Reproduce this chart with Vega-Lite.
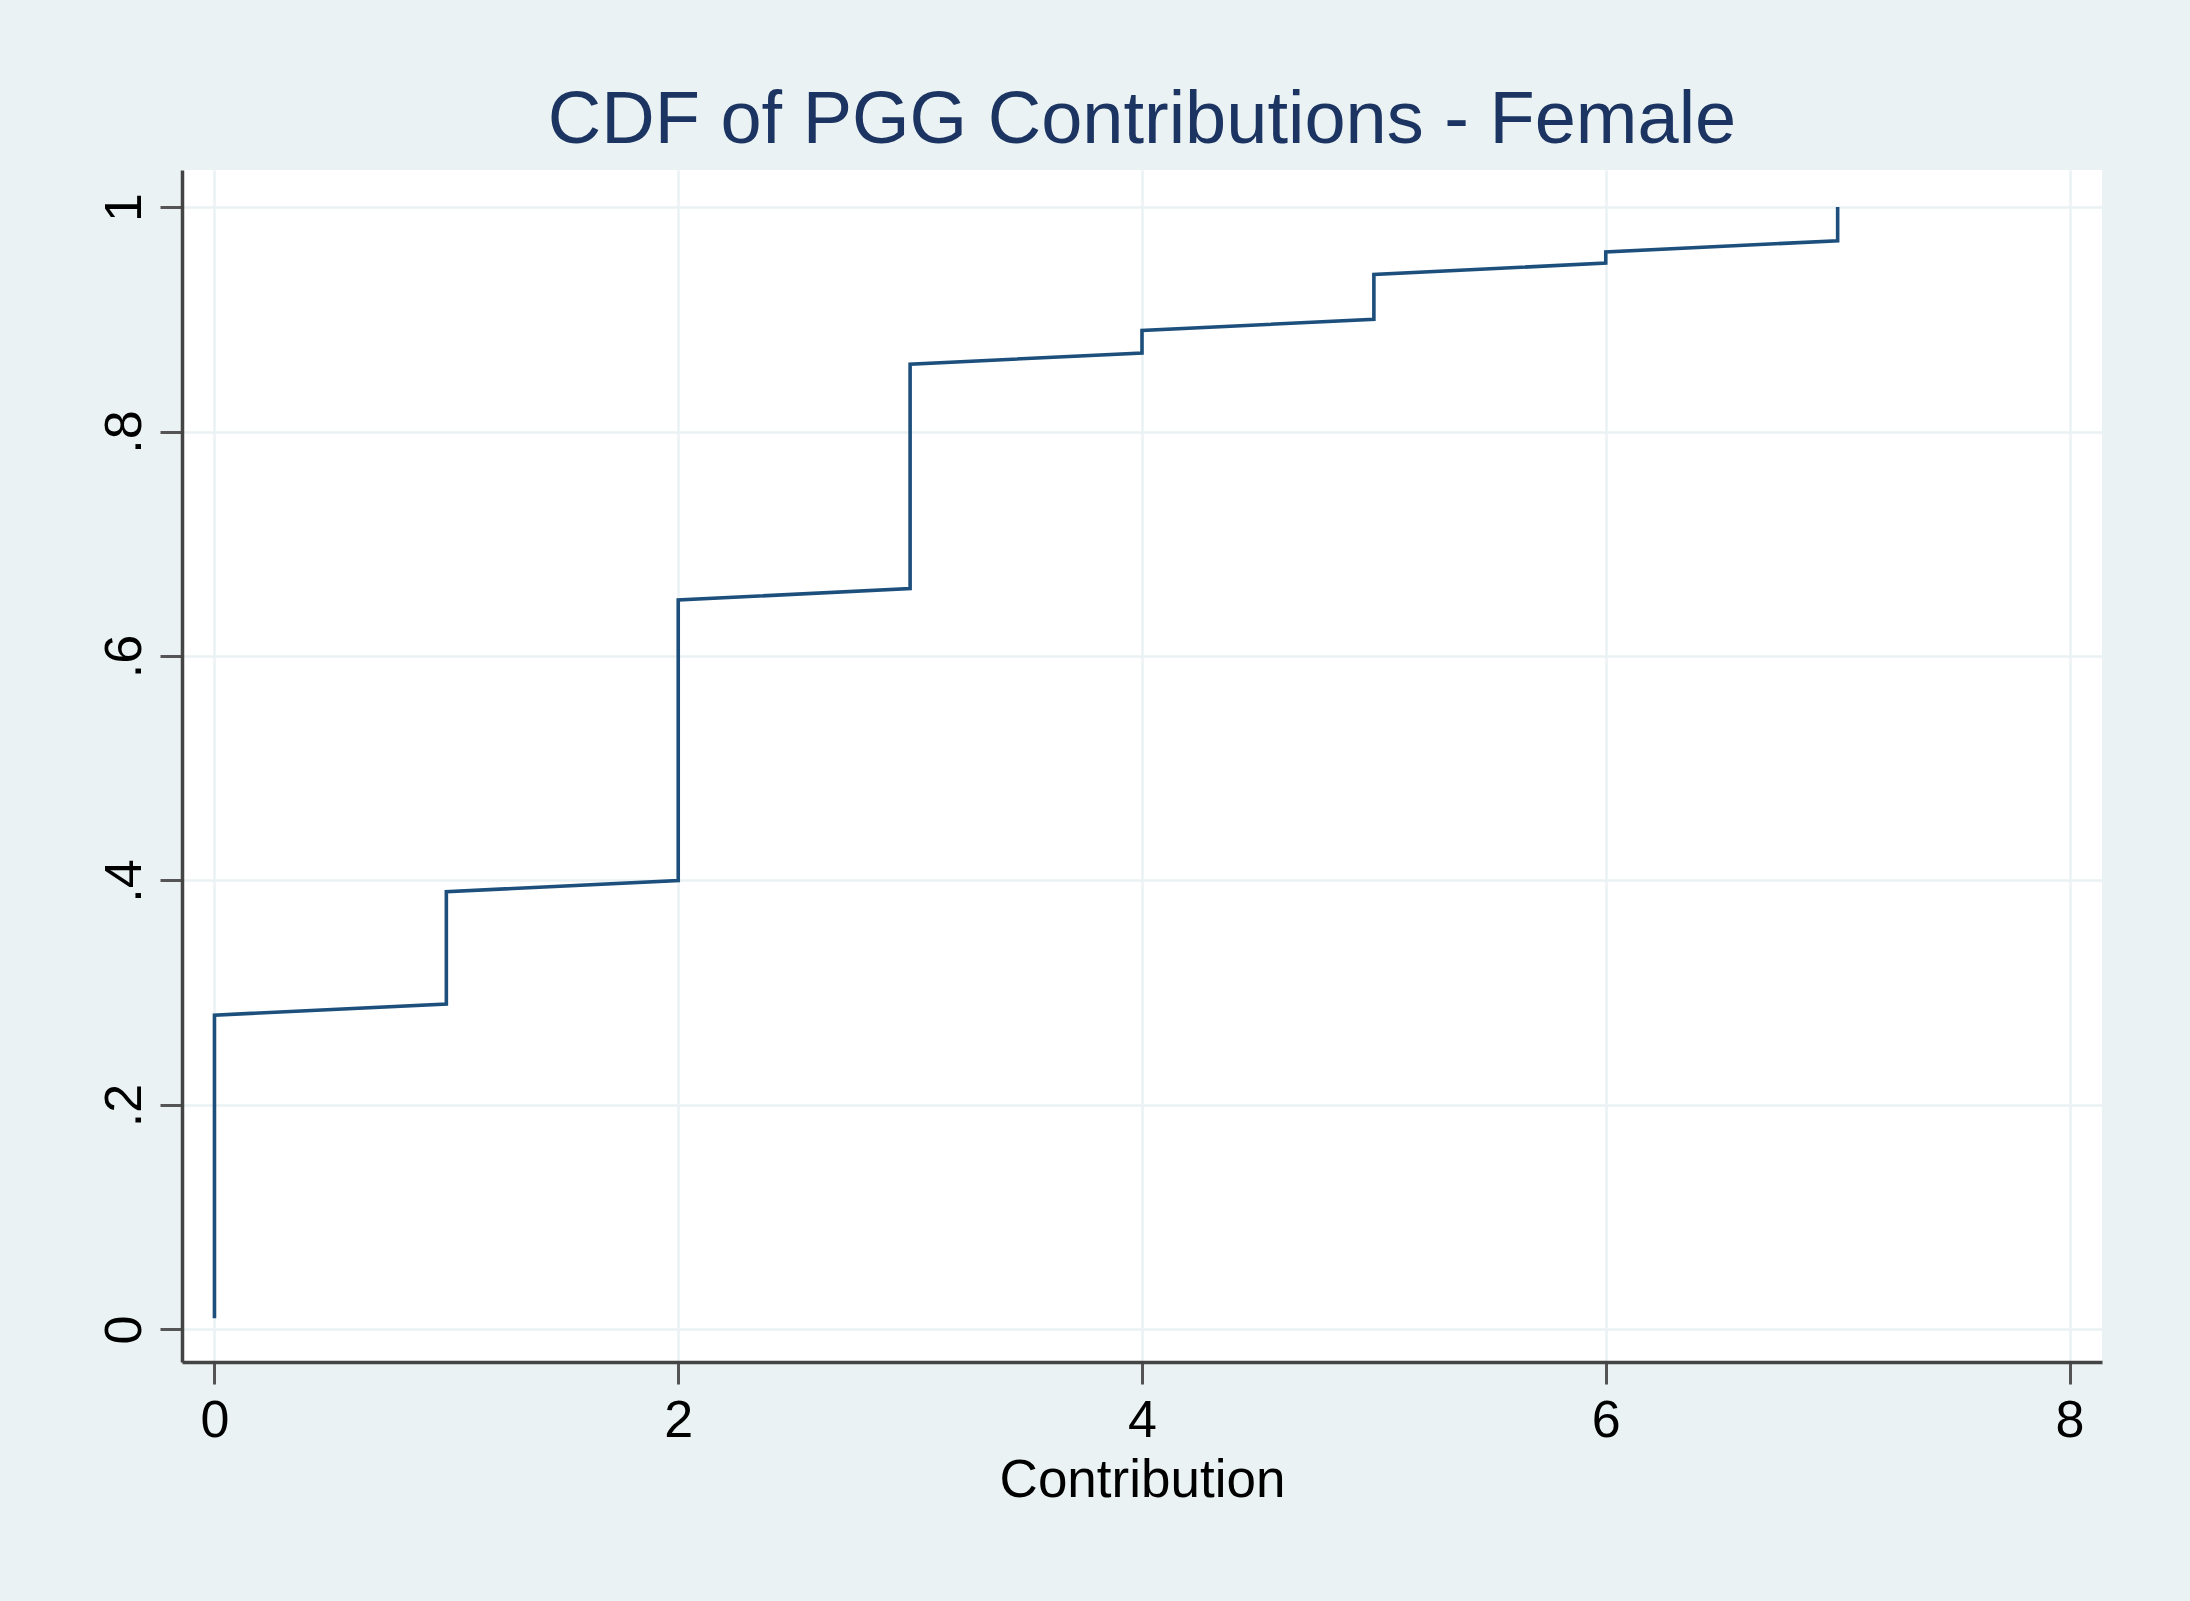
{
  "$schema": "https://vega.github.io/schema/vega-lite/v6.json",
  "autosize": {"type": "none"},
  "width": 1920,
  "height": 1192,
  "padding": {"left": 182, "top": 170, "right": 88, "bottom": 239},
  "background": "#EAF2F3",
  "view": {"fill": "white", "stroke": null},
  "title": {
    "text": "CDF of PGG Contributions - Female",
    "font": "Liberation Sans",
    "fontSize": 74,
    "fontWeight": "normal",
    "color": "#1c3461",
    "anchor": "middle",
    "frame": "group",
    "baseline": "alphabetic",
    "offset": -47
  },
  "data": {
    "values": [
      {"obs": 1, "contribution": 0, "cdf": 0.01},
      {"obs": 28, "contribution": 0, "cdf": 0.28},
      {"obs": 29, "contribution": 1, "cdf": 0.29},
      {"obs": 39, "contribution": 1, "cdf": 0.39},
      {"obs": 40, "contribution": 2, "cdf": 0.40},
      {"obs": 65, "contribution": 2, "cdf": 0.65},
      {"obs": 66, "contribution": 3, "cdf": 0.66},
      {"obs": 86, "contribution": 3, "cdf": 0.86},
      {"obs": 87, "contribution": 4, "cdf": 0.87},
      {"obs": 89, "contribution": 4, "cdf": 0.89},
      {"obs": 90, "contribution": 5, "cdf": 0.90},
      {"obs": 94, "contribution": 5, "cdf": 0.94},
      {"obs": 95, "contribution": 6, "cdf": 0.95},
      {"obs": 96, "contribution": 6, "cdf": 0.96},
      {"obs": 97, "contribution": 7, "cdf": 0.97},
      {"obs": 100, "contribution": 7, "cdf": 1.00}
    ]
  },
  "mark": {"type": "line", "color": "#1d4f7c", "strokeWidth": 3.6, "clip": false},
  "encoding": {
    "x": {
      "field": "contribution",
      "type": "quantitative",
      "scale": {"domain": [-0.14, 8.14], "nice": false, "zero": false},
      "axis": {
        "title": "Contribution",
        "values": [0, 2, 4, 6, 8],
        "format": "d",
        "labelFont": "Liberation Sans",
        "labelFontSize": 52,
        "labelColor": "black",
        "labelPadding": 11,
        "labelFlush": false,
        "titleFont": "Liberation Sans",
        "titleFontSize": 53,
        "titleFontWeight": "normal",
        "titleColor": "black",
        "titlePadding": 8,
        "tickSize": 22,
        "tickWidth": 3,
        "tickColor": "#555555",
        "domainColor": "#444444",
        "domainWidth": 3.5,
        "grid": true,
        "gridColor": "#EAF2F3",
        "gridWidth": 2.5
      }
    },
    "y": {
      "field": "cdf",
      "type": "quantitative",
      "scale": {"domain": [-0.029, 1.033], "nice": false, "zero": false},
      "axis": {
        "title": null,
        "values": [0, 0.2, 0.4, 0.6, 0.8, 1],
        "labelExpr": "datum.value == 0 ? '0' : datum.value == 1 ? '1' : '.' + round(datum.value * 10)",
        "labelAngle": -90,
        "labelAlign": "center",
        "labelBaseline": "bottom",
        "labelFont": "Liberation Sans",
        "labelFontSize": 52,
        "labelColor": "black",
        "labelPadding": 9,
        "labelFlush": false,
        "tickSize": 22,
        "tickWidth": 3,
        "tickColor": "#555555",
        "domainColor": "#444444",
        "domainWidth": 3.5,
        "grid": true,
        "gridColor": "#EAF2F3",
        "gridWidth": 2.5
      }
    },
    "order": {"field": "obs", "type": "quantitative"}
  }
}
